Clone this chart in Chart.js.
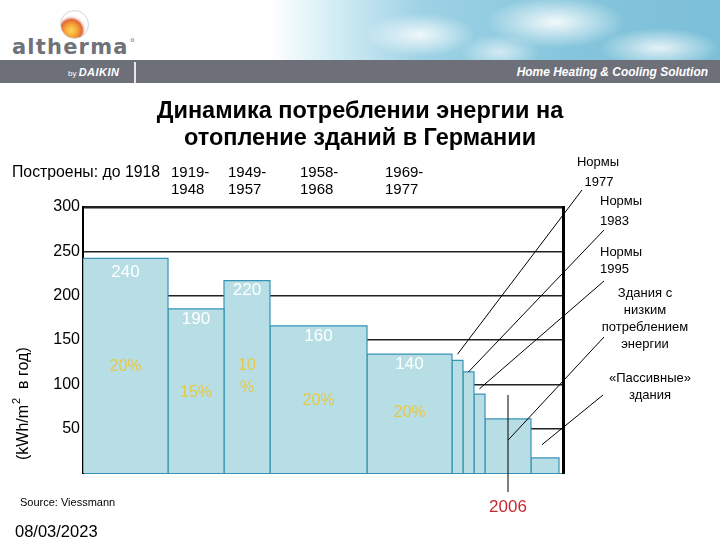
<!DOCTYPE html>
<html lang="ru">
<head>
<meta charset="utf-8">
<script src="https://cdn.jsdelivr.net/npm/chart.js@4/dist/chart.umd.min.js"></script>
<style>
  body { margin: 0; background: #fff; font-family: Arial, 'Liberation Sans', sans-serif; }
  #page { position: relative; width: 720px; height: 540px; overflow: hidden; }
  #page canvas { position: absolute; left: 0; top: 0; }
  .abs { position: absolute; white-space: nowrap; }
  #sky {
    left: 0; top: 0; width: 720px; height: 60px;
    background:
      radial-gradient(ellipse 55px 22px at 420px 35px, rgba(255,255,255,.85), rgba(255,255,255,0)),
      radial-gradient(ellipse 70px 26px at 555px 22px, rgba(255,255,255,.9), rgba(255,255,255,0)),
      radial-gradient(ellipse 60px 20px at 660px 48px, rgba(255,255,255,.8), rgba(255,255,255,0)),
      radial-gradient(ellipse 40px 18px at 500px 52px, rgba(255,255,255,.6), rgba(255,255,255,0)),
      linear-gradient(to right, #fff 0, #fff 270px, #d6eef5 330px, #9ed2e5 420px, #86c6dc 560px, #7bbfd8 720px);
  }
  #band { left: 0; top: 60px; width: 720px; height: 23px; background: #6e7079; }
  #swirl {
    left: 60px; top: 10px; width: 27px; height: 27px; border-radius: 50%;
    border: 1px solid #d5d5d5;
    background: radial-gradient(circle at 38% 72%, #fcd65a 0, #f4a233 25%, #e06a3c 42%, rgba(240,200,200,.4) 52%, rgba(255,255,255,0) 60%);
  }
  #brand { left: 12px; top: 35px; font-family: 'DejaVu Sans', sans-serif; font-size: 21px; line-height: 24px;
           font-weight: 600; color: #6f7278; letter-spacing: 1.2px; }
  #deg { left: 130px; top: 36px; font-size: 12px; color: #6f7278; }
  #by { left: 68px; top: 66px; color: #fff; font-size: 8px; }
  #by b { font-size: 11px; font-style: italic; letter-spacing: .5px; }
  #sep { left: 134px; top: 62px; width: 2px; height: 21px; background: #e8e8e8; }
  #slogan { right: 12px; top: 64px; color: #fff; font-size: 13px; font-weight: bold; font-style: italic;
            transform: scaleX(0.92); transform-origin: right center; }
  #title { left: 0; top: 97px; width: 720px; text-align: center; font-size: 23.5px; font-weight: bold;
           line-height: 27px; white-space: normal; }
  .period { font-size: 15px; line-height: 17px; top: 163px; }
  #built { left: 12px; top: 163px; font-size: 15.8px; }
  #source { left: 20px; top: 496px; font-size: 11px; }
  #date { left: 15px; top: 522px; font-size: 16.5px; }
</style>
</head>
<body>
<div id="page">
  <canvas id="chart" width="720" height="540"></canvas>
  <div class="abs" id="sky"></div>
  <div class="abs" id="band"></div>
  <div class="abs" id="swirl"></div>
  <div class="abs" id="brand">altherma</div>
  <div class="abs" id="deg">°</div>
  <div class="abs" id="by">by <b>DAIKIN</b></div>
  <div class="abs" id="sep"></div>
  <div class="abs" id="slogan">Home Heating &amp; Cooling Solution</div>
  <div class="abs" id="title">Динамика потреблении энергии на<br>отопление зданий в Германии</div>
  <div class="abs" id="built">Построены: до 1918</div>
  <div class="abs period" style="left:171px">1919-<br>1948</div>
  <div class="abs period" style="left:228px">1949-<br>1957</div>
  <div class="abs period" style="left:300px">1958-<br>1968</div>
  <div class="abs period" style="left:385px">1969-<br>1977</div>
  <div class="abs" id="source">Source: Viessmann</div>
  <div class="abs" id="date">08/03/2023</div>
</div>
<script>
// bar edges along the (unlabelled) x axis and heights in kWh/m² per year
const barEdges = [0, 85, 141, 187, 284, 369, 380, 391, 402, 448, 476];
const barValues = [242, 185, 217, 166, 134, 127, 114, 89, 61, 17];
const valueLabels = ['240', '190', '220', '160', '140'];
const shareLabels = [['20%'], ['15%'], ['10', '%'], ['20%'], ['20%']];
const yTicks = [0, 50, 100, 150, 200, 250, 300];

const normLabels = [
  ['Нормы', '1977'],
  ['Нормы', '1983'],
  ['Нормы', '1995'],
  ['Здания с', 'низким', 'потреблением', 'энергии'],
  ['«Пассивные»', 'здания']
];
const normBars = [5, 6, 7, 8, 9];
const normTargetY = [134, 114, 95, 37, 32];
const markYear = '2006';

const FONT = 'Arial, "Liberation Sans", sans-serif';

const datasets = barValues.map((v, i) => ({
  data: [
    { x: barEdges[i], y: 0 },
    { x: barEdges[i], y: v },
    { x: barEdges[i + 1], y: v },
    { x: barEdges[i + 1], y: 0 }
  ],
  borderColor: '#3792b5',
  borderWidth: 1.2,
  backgroundColor: '#b7dee4',
  fill: 'origin',
  pointRadius: 0,
  tension: 0
}));

const annotations = {
  id: 'annotations',
  afterDatasetsDraw(chart) {
    const { ctx, scales: { x, y } } = chart;
    const mid = i => x.getPixelForValue((barEdges[i] + barEdges[i + 1]) / 2);
    ctx.save();
    ctx.textAlign = 'center';
    ctx.textBaseline = 'middle';

    // values on top of the first five bars
    ctx.fillStyle = '#ffffff';
    ctx.font = '17px ' + FONT;
    valueLabels.forEach((t, i) => {
      ctx.fillText(t, mid(i), y.getPixelForValue(barValues[i]) + (i === 0 ? 14 : 10));
    });

    // shares
    const shareY = [367, 393, 366, 401, 413];
    ctx.fillStyle = '#e6c84a';
    ctx.font = '16px ' + FONT;
    shareLabels.forEach((lines, i) => {
      lines.forEach((t, k) => ctx.fillText(t, mid(i), shareY[i] + k * 22));
    });

    // callouts
    const anchors = [[582, 190], [604, 230], [604, 281], [604, 337], [603, 395]];
    ctx.strokeStyle = '#000';
    ctx.lineWidth = 1;
    normBars.forEach((b, i) => {
      ctx.beginPath();
      ctx.moveTo(anchors[i][0], anchors[i][1]);
      ctx.lineTo(mid(b) - (i === 4 ? 3 : 0), y.getPixelForValue(normTargetY[i]));
      ctx.stroke();
    });
    ctx.fillStyle = '#000';
    ctx.font = '13px ' + FONT;
    const textPos = [
      { x: 598, y: 162, align: 'center', lh: 20 },
      { x: 600, y: 201, align: 'left', lh: 20 },
      { x: 600, y: 252, align: 'left', lh: 17 },
      { x: 645, y: 293, align: 'center', lh: 17 },
      { x: 650, y: 378, align: 'center', lh: 17 }
    ];
    normLabels.forEach((lines, i) => {
      const p = textPos[i];
      ctx.textAlign = p.align;
      lines.forEach((t, k) => ctx.fillText(t, i === 0 && k === 1 ? 599 : p.x, p.y + k * p.lh));
    });

    // 2006 marker
    const mx = mid(8);
    ctx.beginPath();
    ctx.moveTo(mx, y.getPixelForValue(88));
    ctx.lineTo(mx, 492);
    ctx.stroke();
    ctx.textAlign = 'center';
    ctx.fillStyle = '#c42a30';
    ctx.font = '17px ' + FONT;
    ctx.fillText(markYear, mx, 507);

    // axis title: (kWh/m²  в год)
    ctx.fillStyle = '#000';
    ctx.translate(24, 460);
    ctx.rotate(-Math.PI / 2);
    ctx.textAlign = 'left';
    ctx.font = '16px ' + FONT;
    const a = '(kWh/m', b = '  в год)';
    ctx.fillText(a, 0, 0);
    let w = ctx.measureText(a).width;
    ctx.font = '11px ' + FONT;
    ctx.fillText('2', w + 1, -7);
    w += ctx.measureText('2').width + 1;
    ctx.font = '16px ' + FONT;
    ctx.fillText(b, w, 0);
    ctx.restore();
  }
};

new Chart(document.getElementById('chart'), {
  type: 'line',
  data: { datasets },
  options: {
    responsive: false,
    animation: false,
    layout: { padding: { left: 43, right: 157, top: 207, bottom: 67 } },
    plugins: { legend: { display: false }, tooltip: { enabled: false } },
    scales: {
      x: { type: 'linear', min: 0, max: 480, display: false },
      y: {
        min: 0, max: 300,
        afterBuildTicks: s => { s.ticks = yTicks.map(v => ({ value: v })); },
        afterFit: s => { s.width = 40; s.paddingTop = 0; s.paddingBottom = 0; },
        ticks: {
          padding: 3,
          color: '#000',
          font: { size: 16, family: FONT },
          callback: v => (v === 0 ? '' : v)
        },
        grid: {
          drawTicks: false,
          color: c => (c.tick.value === 0 ? '#3792b5' : '#222'),
          lineWidth: c => (c.tick.value === 300 ? 2.5 : c.tick.value === 0 ? 1 : 1.5)
        },
        border: { display: true, color: '#000', width: 2 }
      },
      y2: {
        position: 'right',
        min: 0, max: 300,
        afterFit: s => { s.width = 0; s.paddingTop = 0; s.paddingBottom = 0; },
        ticks: { display: false },
        grid: { display: false },
        border: { display: true, color: '#000', width: 3 }
      }
    }
  },
  plugins: [annotations]
});
</script>
</body>
</html>
